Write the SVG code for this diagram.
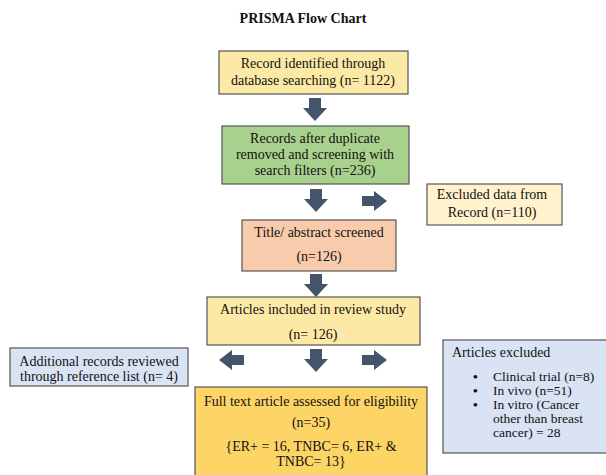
<svg xmlns="http://www.w3.org/2000/svg" width="606" height="475" viewBox="0 0 606 475">
<defs>
<style>
text{font-family:"Liberation Serif","Times New Roman",serif;font-size:14px;fill:#111;text-anchor:middle}
.box{stroke:#555;stroke-width:1.2}
.arr{fill:#44546a}
.l{text-anchor:start}
.s{font-size:13.5px}
.b{font-weight:bold}
</style>
<path id="dn" d="M-6,0 H6 V10 H12 L0,23 L-12,10 H-6 Z"/>
<path id="rt" d="M0,-5 H12 V-10 L25,0 L12,10 V5 H0 Z"/>
<path id="lt" d="M0,-5 H-12 V-10 L-25,0 L-12,10 V5 H0 Z"/>
</defs>
<rect width="606" height="475" fill="#fff"/>
<text x="303" y="23" style="font-weight:bold">PRISMA Flow Chart</text>
<g id="n1"><rect class="box" x="219" y="51" width="189" height="43" fill="#fde9a6"/>
<text x="313" y="68">Record identified through</text><text x="313" y="85">database searching (n= 1122)</text></g>
<g id="n2"><rect class="box" x="222" y="126" width="187" height="58" fill="#a9d18e"/>
<text x="315" y="143">Records after duplicate</text><text x="315" y="159">removed and screening with</text><text x="315" y="175">search filters (n=236)</text></g>
<g id="n3"><rect class="box" x="427" y="184" width="135" height="41" fill="#fff2cc"/>
<text x="492" y="199">Excluded data from</text><text x="492" y="217">Record (n=110)</text></g>
<g id="n4"><rect class="box" x="242" y="220" width="154" height="51" fill="#f8cbad"/>
<text x="319" y="237">Title/ abstract screened</text><text x="319" y="261">(n=126)</text></g>
<g id="n5"><rect class="box" x="207" y="297" width="213" height="48" fill="#fde9a6"/>
<text x="313" y="314">Articles included in review study</text><text x="313" y="339">(n= 126)</text></g>
<g id="n6"><rect class="box" x="10" y="348" width="178" height="38" fill="#dae3f3"/>
<text x="99" y="366">Additional records reviewed</text><text x="99" y="381">through reference list (n= 4)</text></g>
<g id="n7"><rect class="box" x="195" y="387" width="232" height="92" fill="#fdd466"/>
<text x="311" y="406">Full text article assessed for eligibility</text><text x="311" y="427">(n=35)</text>
<text x="311" y="451">{ER+ = 16, TNBC= 6, ER+ &amp;</text><text x="311" y="466">TNBC= 13}</text></g>
<g id="n8"><rect class="box" x="443" y="340" width="170" height="113" fill="#dae3f3"/>
<text class="l" x="452" y="357">Articles excluded</text>
<text class="l s b" x="473" y="381">•</text><text class="l s" x="493" y="381">Clinical trial (n=8)</text>
<text class="l s b" x="473" y="395">•</text><text class="l s" x="493" y="395">In vivo (n=51)</text>
<text class="l s b" x="473" y="409">•</text><text class="l s" x="493" y="409">In vitro (Cancer</text>
<text class="l s" x="493" y="423">other than breast</text>
<text class="l s" x="493" y="437">cancer) = 28</text></g>
<g id="connectors" class="arr">
<use href="#dn" x="315" y="98"/>
<use href="#dn" x="316" y="189"/>
<use href="#rt" x="362" y="201"/>
<use href="#dn" x="316" y="274"/>
<use href="#lt" x="244" y="360"/>
<use href="#dn" x="316" y="349"/>
<use href="#rt" x="362" y="360"/>
</g>
</svg>
